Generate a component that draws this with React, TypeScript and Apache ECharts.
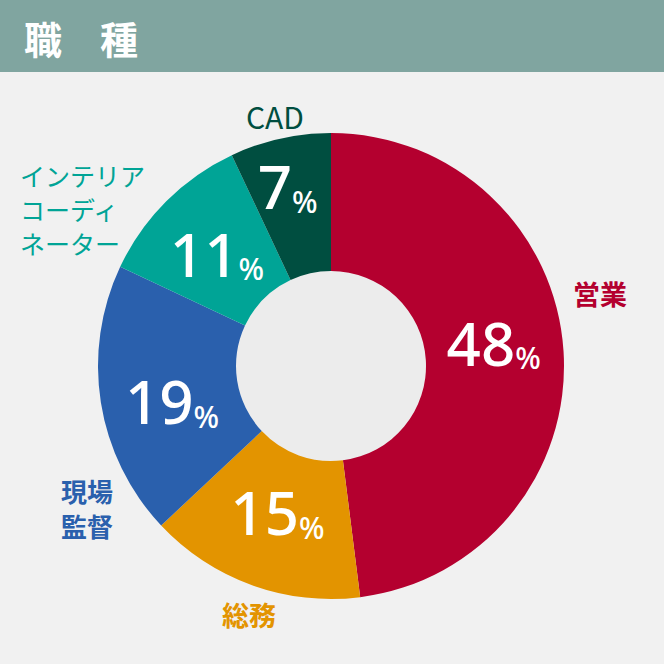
import React, { useEffect, useRef } from "react";
import * as echarts from "echarts";

const title = "職　種";
const categories = ["営業", "総務", "現場監督", "インテリアコーディネーター", "CAD"];
const labelLines = [["営業"], ["総務"], ["現場", "監督"], ["インテリア", "コーディ", "ネーター"], ["CAD"]];
const values = [48, 15, 19, 11, 7];
const colors = ["#b4002f", "#e39400", "#2a60ad", "#00a496", "#004e40"];

const CX = 331;
const CY = 366;
const R_IN = 95;
const R_OUT = 233;

// outside label layout: [x, y of first line centre, align, weight, line step, font size]
const labelLayout: [number, number, string, string, number, number][] = [
  [600, 293, "center", "bold", 34, 27],
  [249, 614, "center", "bold", 34, 27],
  [87, 490, "center", "bold", 35.5, 26],
  [20, 175, "left", "normal", 34, 25],
  [275, 116, "center", "normal", 34, 30],
];
// inside label nudges [dx, dy]
const insideOffsets: [number, number][] = [
  [-4, -13],
  [3, -11],
  [6, 9],
  [4, 6],
  [-7, -17],
];

export default function App() {
  const ref = useRef<HTMLDivElement>(null);
  useEffect(() => {
    if (!ref.current) return;
    const chart = echarts.init(ref.current, null, { renderer: "svg" });
    const font = '"Noto Sans CJK JP", "Noto Sans", sans-serif';
    const graphics: any[] = [
      { type: "rect", shape: { x: 0, y: 0, width: 664, height: 72 }, style: { fill: "#80a5a0" }, z: 0 },
      {
        type: "text",
        x: 24,
        y: 37,
        style: {
          text: title,
          fill: "#ffffff",
          font: `bold 38px ${font}`,
          verticalAlign: "middle",
          align: "left",
        },
      },
      { type: "circle", shape: { cx: CX, cy: CY, r: R_IN }, style: { fill: "#ececec" }, z: -1 },
    ];
    categories.forEach((c, i) => {
      const [x, y, align, weight, step, fs] = labelLayout[i];
      labelLines[i].forEach((line, j) => {
        graphics.push({
          type: "text",
          x,
          y: y + j * step,
          style: {
            text: line,
            fill: colors[i],
            font: `${weight} ${fs}px ${font}`,
            align,
            verticalAlign: "middle",
          },
        });
      });
    });
    chart.setOption({
      animation: false,
      backgroundColor: "#f1f1f1",
      graphic: graphics,
      series: [
        {
          type: "pie",
          center: [CX, CY],
          radius: [R_IN, R_OUT],
          startAngle: 90,
          clockwise: true,
          avoidLabelOverlap: false,
          itemStyle: { borderWidth: 0 },
          label: {
            show: true,
            position: "inside",
            formatter: (p: any) => `{n|${p.value}}{p|%}`,
            rich: {
              n: {
                fontFamily: '"Noto Sans", sans-serif',
                fontSize: 60,
                fontWeight: 500,
                color: "#ffffff",
                verticalAlign: "bottom",
                lineHeight: 60,
              },
              p: {
                fontFamily: '"Noto Sans", sans-serif',
                fontSize: 30,
                fontWeight: 500,
                color: "#ffffff",
                verticalAlign: "bottom",
                lineHeight: 44,
              },
            },
          },
          labelLine: { show: false },
          emphasis: { disabled: true },
          data: categories.map((c, i) => ({
            name: c,
            value: values[i],
            itemStyle: { color: colors[i] },
            label: { offset: insideOffsets[i] },
          })),
        },
      ],
    });
    return () => chart.dispose();
  }, []);
  return <div ref={ref} style={{ position: "fixed", left: 0, top: 0, width: 664, height: 664 }} />;
}
